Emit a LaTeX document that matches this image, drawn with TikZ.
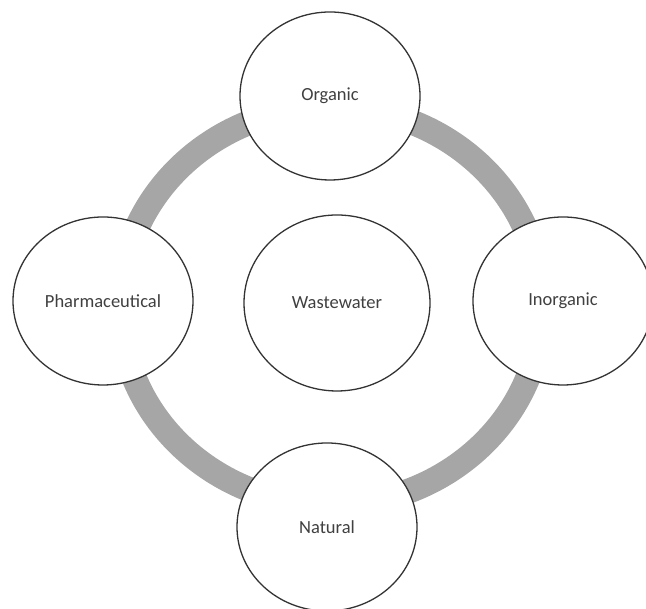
\documentclass[tikz,border=0pt]{standalone}
\usepackage{fontspec}
\setmainfont{Carlito}
\usepackage{tikz}
\usetikzlibrary{calc}
\usetikzlibrary{shapes.geometric}

\definecolor{ringgray}{RGB}{166,166,166}
\definecolor{edgegray}{RGB}{51,51,51}
\definecolor{textgray}{RGB}{64,64,64}

\tikzset{
  bubble/.style={draw=edgegray, line width=1.3pt, fill=white, ellipse,
    minimum width=180pt, minimum height=168pt, inner sep=0pt,
    text=textgray, font=\fontsize{18.5}{22}\selectfont},
  ringline/.style={draw=ringgray, line width=25pt}
}

\begin{document}
\begin{tikzpicture}[x=1pt,y=1pt]
\useasboundingbox (0,0) rectangle (646,609);
\clip (0,0) rectangle (646,609);

\coordinate (ring_c) at (331,303);
\coordinate (c_org) at (330,513);
\coordinate (c_inorg) at (563,308);
\coordinate (c_nat) at (327,82);
\coordinate (c_pharm) at (103,308);
\coordinate (c_ww) at (337,306);

\draw [ringline] (ring_c) ellipse [x radius=211, y radius=199];

\node [bubble] (organic) at (c_org) {Organic};
\node [bubble] (inorganic) at (c_inorg) {Inorganic};
\node [bubble] (natural) at (c_nat) {Natural};
\node [bubble] (pharma) at (c_pharm) {Pharmaceutical};
\node [bubble, minimum width=186pt, minimum height=176pt] (wastewater) at (c_ww) {Wastewater};
\end{tikzpicture}
\end{document}
